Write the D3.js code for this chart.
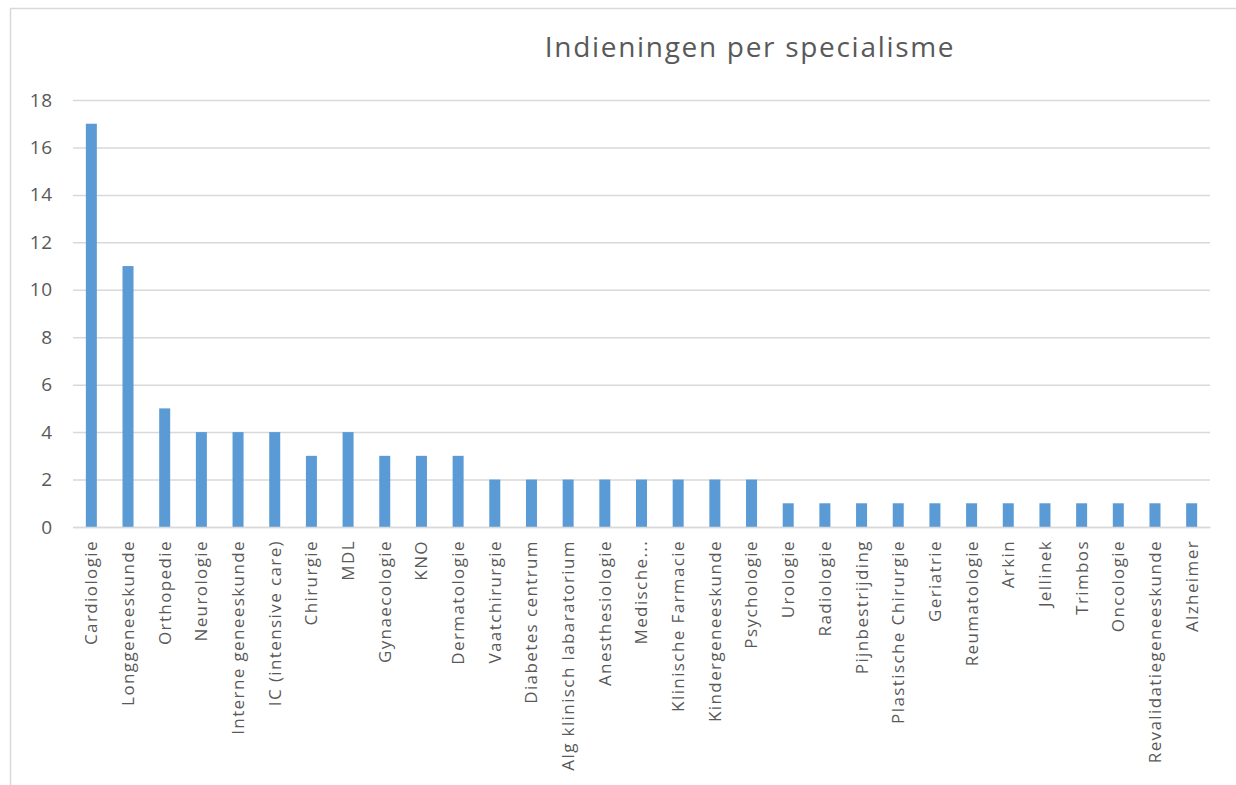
<!DOCTYPE html>
<html>
<head>
<meta charset="utf-8">
<script src="https://cdn.jsdelivr.net/npm/d3@7"></script>
<style>
  body { margin: 0; background: #fff; }
  text { font-family: "Open Sans", sans-serif; fill: #595959; }
</style>
</head>
<body>
<div id="chart"></div>
<script>
// Data
var categories = ["Cardiologie", "Longgeneeskunde", "Orthopedie", "Neurologie", "Interne geneeskunde",
    "IC (intensive care)", "Chirurgie", "MDL", "Gynaecologie", "KNO", "Dermatologie", "Vaatchirurgie",
    "Diabetes centrum", "Alg klinisch labaratorium", "Anesthesiologie", "Medische...", "Klinische Farmacie",
    "Kindergeneeskunde", "Psychologie", "Urologie", "Radiologie", "Pijnbestrijding", "Plastische Chirurgie",
    "Geriatrie", "Reumatologie", "Arkin", "Jellinek", "Trimbos", "Oncologie", "Revalidatiegeneeskunde", "Alzheimer"];
var counts = [17, 11, 5, 4, 4, 4, 3, 4, 3, 3, 3, 2, 2, 2, 2, 2, 2, 2, 2, 1, 1, 1, 1, 1, 1, 1, 1, 1, 1, 1, 1];
var yTicks = [0, 2, 4, 6, 8, 10, 12, 14, 16, 18];
var title = "Indieningen per specialisme";

var svgWidth = 1236;
var svgHeight = 785;

var margin = {
    top: 100,
    right: 26,
    left: 73,
    bottom: 258
};

var chartWidth = svgWidth - margin.left - margin.right;
var chartHeight = svgHeight - margin.top - margin.bottom;

var svg = d3.select("#chart")
    .append("svg")
    .attr("width", svgWidth)
    .attr("height", svgHeight);

// chart border
svg.append("rect")
    .attr("x", 10.5)
    .attr("y", 8.5)
    .attr("width", 1300)
    .attr("height", 900)
    .attr("fill", "none")
    .attr("stroke", "#d9d9d9")
    .attr("stroke-width", 1.5);

// Title
svg.append("text")
    .attr("x", 750)
    .attr("y", 57)
    .attr("text-anchor", "middle")
    .style("font-size", "28px")
    .style("letter-spacing", "1.7px")
    .text(title);

var chartCanvass = svg.append("g")
    .attr("transform", `translate(${margin.left}, ${margin.top})`);

var xScale = d3.scaleBand()
    .domain(categories)
    .range([0, chartWidth])
    .paddingInner(0.7)
    .paddingOuter(0.35);

var yScale = d3.scaleLinear()
    .domain([0, 18])
    .range([chartHeight, 0]);

// gridlines
var yAxis = d3.axisLeft(yScale)
    .tickValues(yTicks)
    .tickSize(-chartWidth)
    .tickPadding(20);

var yAxisG = chartCanvass.append("g")
    .call(yAxis);
yAxisG.select(".domain").remove();
yAxisG.selectAll(".tick line")
    .attr("stroke", "#d9d9d9")
    .attr("stroke-width", 1.5);
yAxisG.selectAll(".tick text")
    .style("font-size", "19px")
    .style("letter-spacing", "0.8px")
    .style("font-family", "Open Sans, sans-serif")
    .attr("fill", "#595959");

// bars
chartCanvass.selectAll("rect.bar")
    .data(counts)
    .enter()
    .append("rect")
    .classed("bar", true)
    .attr("x", (d, i) => xScale(categories[i]))
    .attr("y", d => yScale(d))
    .attr("width", xScale.bandwidth())
    .attr("height", d => chartHeight - yScale(d))
    .attr("fill", "#5b9bd5");

// x axis
var xAxis = d3.axisBottom(xScale).tickSize(0).tickPadding(14);
var xAxisG = chartCanvass.append("g")
    .attr("transform", `translate(0, ${chartHeight})`)
    .call(xAxis);
xAxisG.select(".domain")
    .attr("stroke", "#d9d9d9")
    .attr("stroke-width", 1.5);
xAxisG.selectAll(".tick text")
    .style("font-size", "17px")
    .style("letter-spacing", "1.4px")
    .style("font-family", "Open Sans, sans-serif")
    .attr("fill", "#595959")
    .attr("transform", "rotate(-90)")
    .attr("text-anchor", "end")
    .attr("x", -13)
    .attr("y", 0)
    .attr("dy", "0.35em");
</script>
</body>
</html>
